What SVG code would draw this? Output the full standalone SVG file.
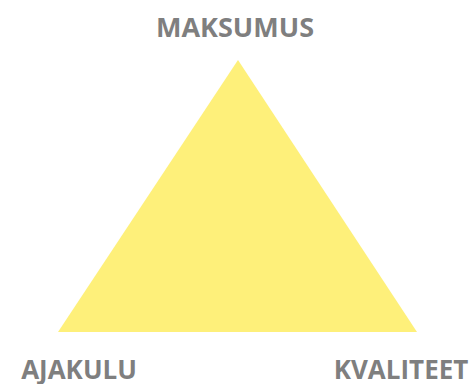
<svg xmlns="http://www.w3.org/2000/svg" width="473" height="384" viewBox="0 0 473 384">
<style>
.lbl{font-family:"Open Sans","Liberation Sans",sans-serif;font-weight:bold;font-size:26px;fill:#7f7f7f;text-anchor:middle}
</style>
<rect width="473" height="384" fill="#ffffff"/>
<g id="triangle">
<polygon points="238,60 58,332 417,332" fill="#fef07a"/>
</g>
<g id="connectors"></g>
<g id="maksumus"><text class="lbl" x="235" y="37" style="font-size:27px">MAKSUMUS</text></g>
<g id="ajakulu"><text class="lbl" x="79" y="379">AJAKULU</text></g>
<g id="kvaliteet"><text class="lbl" x="401" y="379">KVALITEET</text></g>
</svg>
